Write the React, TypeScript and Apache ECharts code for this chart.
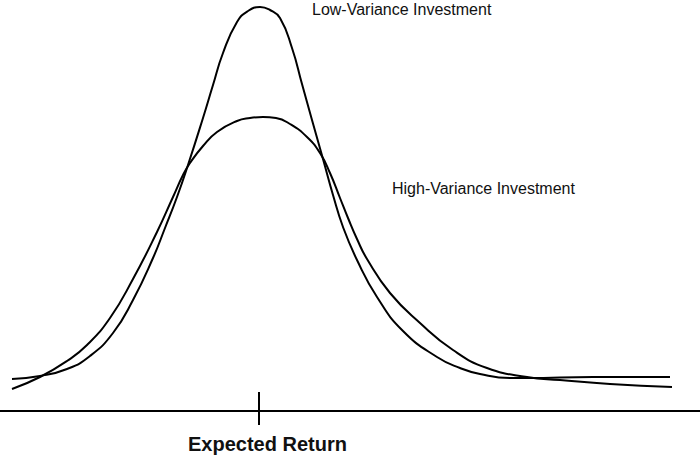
import React, { useEffect, useRef } from "react";
import * as echarts from "echarts";

// Horizontal position (return) and density for each curve
const lowVarX = [12, 40, 67, 90, 113, 133, 153, 165, 177, 188, 203, 213, 223, 237, 248, 260, 270, 280, 292, 302, 312, 323, 333, 343, 357, 377, 403, 437, 460, 480, 510, 527, 593, 670];
const lowVarY = [32, 35, 42, 55, 78, 111, 153, 183, 214, 246, 293, 326, 358, 389, 400, 404, 401, 393, 363, 327, 291, 252, 216, 184, 151, 114, 80, 54, 43, 37, 33, 33, 34, 34];

const highVarX = [12, 40, 67, 87, 110, 133, 157, 173, 183, 190, 203, 217, 237, 250, 263, 276, 290, 307, 320, 330, 340, 348, 357, 367, 390, 420, 453, 487, 527, 560, 610, 672];
const highVarY = [22, 34, 50, 66, 93, 132, 179, 214, 236, 248, 265, 279, 290, 293, 294, 293, 287, 274, 258, 238, 213, 193, 172, 152, 118, 88, 61, 43, 34, 31, 27, 24];

const expectedReturn = 259;
const tickSpan = [-14, 19];

const labels = {
  low: "Low-Variance Investment",
  high: "High-Variance Investment",
  axis: "Expected Return",
};

const FONT = "'Liberation Sans', Arial, Helvetica, sans-serif";

export default function App() {
  const ref = useRef<HTMLDivElement>(null);

  useEffect(() => {
    if (!ref.current) return;
    const chart = echarts.init(ref.current, undefined, { renderer: "svg" });
    const lineStyle = { color: "#000", width: 2 };
    chart.setOption({
      animation: false,
      backgroundColor: "#fff",
      grid: { left: 0, right: 0, top: 0, bottom: 0 },
      xAxis: {
        type: "value",
        min: 0,
        max: 700,
        axisLine: { show: true, onZero: true, lineStyle: { color: "#000", width: 2 } },
        axisTick: { show: false },
        axisLabel: { show: false },
        splitLine: { show: false },
      },
      yAxis: {
        type: "value",
        min: -46,
        max: 411,
        show: false,
        splitLine: { show: false },
      },
      series: [
        {
          name: labels.low,
          type: "line",
          smooth: 0.5,
          showSymbol: false,
          lineStyle,
          data: lowVarX.map((x, i) => [x, lowVarY[i]]),
        },
        {
          name: labels.high,
          type: "line",
          smooth: 0.5,
          showSymbol: false,
          lineStyle,
          data: highVarX.map((x, i) => [x, highVarY[i]]),
        },
        {
          name: "tick",
          type: "line",
          showSymbol: false,
          lineStyle,
          data: tickSpan.map((v) => [expectedReturn, v]),
        },
      ],
      graphic: [
        {
          type: "text",
          left: 312,
          top: 1,
          style: { text: labels.low, font: `16px ${FONT}`, fill: "#111" },
        },
        {
          type: "text",
          left: 392,
          top: 180,
          style: { text: labels.high, font: `16px ${FONT}`, fill: "#111" },
        },
        {
          type: "text",
          left: 188,
          top: 434,
          style: { text: labels.axis, font: `bold 20px ${FONT}`, fill: "#111" },
        },
      ],
    });
    return () => chart.dispose();
  }, []);

  return (
    <div
      ref={ref}
      style={{ position: "absolute", left: 0, top: 0, width: 700, height: 457, background: "#fff" }}
    />
  );
}
